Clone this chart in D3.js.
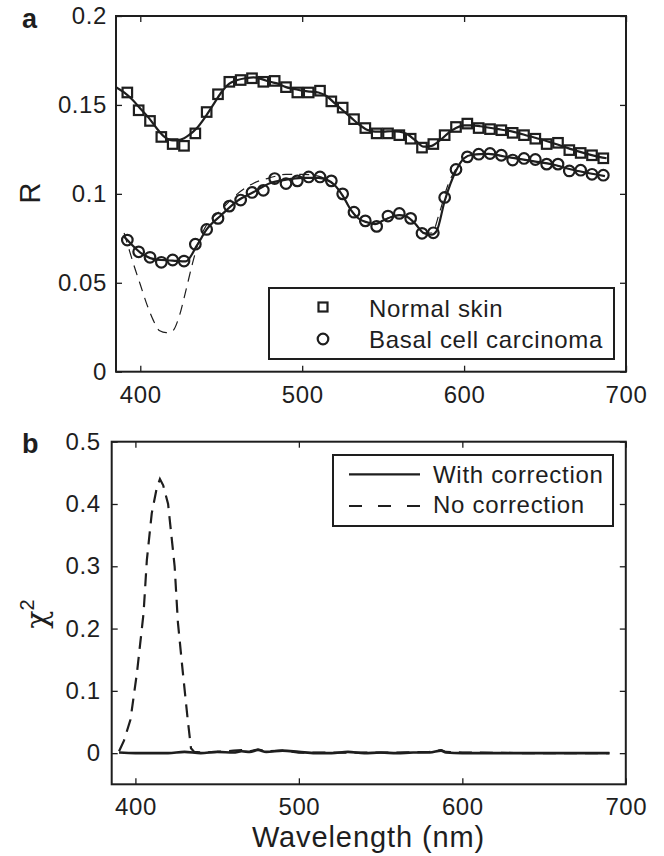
<!DOCTYPE html>
<html>
<head>
<meta charset="utf-8">
<script src="https://cdn.jsdelivr.net/npm/d3@7"></script>
<style>
  html, body { margin: 0; padding: 0; background: #fff; }
  svg { display: block; }
  text { font-family: "Liberation Sans", Arial, Helvetica, sans-serif; fill: #1e1e1e; }
</style>
</head>
<body>
<svg id="chart" width="664" height="856"></svg>
<script>
// ---------------- DATA ----------------
// Panel a: measured reflectance (markers)
const markerWavelengths = [392, 399, 406, 413, 420, 427, 434, 441, 448, 455, 462, 469, 476, 483, 490, 497, 504, 511, 518, 525, 532, 539, 546, 553, 560, 567, 574, 581, 588, 595, 602, 609, 616, 623, 630, 637, 644, 651, 658, 665, 672, 679, 686];
const normalSkin = [0.157, 0.147, 0.141, 0.132, 0.128, 0.127, 0.134, 0.146, 0.156, 0.163, 0.164, 0.165, 0.163, 0.1635, 0.160, 0.157, 0.157, 0.158, 0.152, 0.1485, 0.142, 0.137, 0.134, 0.134, 0.133, 0.131, 0.126, 0.128, 0.133, 0.1376, 0.1395, 0.137, 0.1364, 0.1358, 0.1343, 0.133, 0.131, 0.128, 0.1287, 0.1246, 0.123, 0.1217, 0.120];
const basalCell = [0.074, 0.0674, 0.0643, 0.0615, 0.0628, 0.0622, 0.0717, 0.080, 0.0862, 0.0931, 0.0965, 0.1008, 0.102, 0.1086, 0.1058, 0.1073, 0.1095, 0.1095, 0.1073, 0.100, 0.0897, 0.0848, 0.0817, 0.0875, 0.089, 0.0862, 0.0778, 0.0781, 0.098, 0.1137, 0.1208, 0.1223, 0.1227, 0.1217, 0.119, 0.1199, 0.1193, 0.1167, 0.1167, 0.1129, 0.1133, 0.111, 0.1105];

// Panel a: model fits
const normalFitX = [385, 390, 395, 400, 405, 410, 415, 420, 425, 430, 435, 440, 445, 450, 455, 460, 465, 470, 475, 480, 485, 490, 495, 500, 505, 510, 515, 520, 525, 530, 535, 540, 545, 550, 555, 560, 565, 570, 575, 580, 585, 590, 595, 600, 605, 610, 620, 630, 640, 650, 660, 670, 680, 688];
const normalFitY = [0.160, 0.157, 0.153, 0.148, 0.143, 0.137, 0.132, 0.130, 0.1305, 0.133, 0.137, 0.143, 0.150, 0.157, 0.162, 0.164, 0.165, 0.1655, 0.1645, 0.163, 0.162, 0.160, 0.159, 0.158, 0.1575, 0.157, 0.155, 0.151, 0.147, 0.143, 0.139, 0.136, 0.135, 0.135, 0.1352, 0.135, 0.1335, 0.130, 0.1265, 0.127, 0.130, 0.134, 0.137, 0.1385, 0.1385, 0.138, 0.1365, 0.135, 0.1325, 0.130, 0.127, 0.124, 0.1215, 0.120];
const bccFitX = [390, 392, 400, 410, 420, 428, 435, 441, 450, 460, 470, 480, 490, 500, 510, 515, 520, 525, 530, 535, 540, 545, 550, 555, 560, 565, 570, 575, 580, 583, 588, 595, 600, 605, 615, 625, 635, 645, 655, 665, 675, 687];
const bccFitY = [0.076, 0.074, 0.067, 0.063, 0.0625, 0.062, 0.071, 0.080, 0.088, 0.096, 0.101, 0.106, 0.108, 0.109, 0.109, 0.108, 0.105, 0.099, 0.091, 0.086, 0.084, 0.083, 0.085, 0.087, 0.088, 0.087, 0.083, 0.078, 0.077, 0.079, 0.096, 0.113, 0.120, 0.122, 0.1225, 0.121, 0.1195, 0.118, 0.1165, 0.114, 0.112, 0.110];
const bccNoCorrX = [390, 392, 396, 400, 404, 408, 412, 416, 420, 424, 428, 432, 436, 440, 450, 460, 470, 480, 490, 500, 510, 515, 520, 525, 530, 535, 540, 545, 550, 555, 560, 565, 570, 575, 580, 585, 590, 595, 600, 605, 615, 625, 635, 645, 655, 665, 675, 687];
const bccNoCorrY = [0.078, 0.072, 0.060, 0.049, 0.038, 0.029, 0.023, 0.022, 0.023, 0.031, 0.045, 0.060, 0.073, 0.081, 0.091, 0.100, 0.106, 0.109, 0.111, 0.111, 0.110, 0.108, 0.105, 0.099, 0.091, 0.086, 0.084, 0.083, 0.085, 0.087, 0.088, 0.087, 0.083, 0.078, 0.078, 0.090, 0.105, 0.114, 0.120, 0.122, 0.1225, 0.121, 0.1195, 0.118, 0.1165, 0.114, 0.112, 0.110];

// Panel b: chi-square
const chiWithX = [390, 400, 410, 420, 430, 440, 450, 460, 465, 470, 475, 480, 490, 500, 510, 520, 530, 540, 550, 560, 570, 580, 587, 590, 600, 620, 640, 660, 690];
const chiWith = [0.001, 0.0, 0.0, 0.0, 0.002, 0.0, 0.002, 0.001, 0.003, 0.002, 0.005, 0.002, 0.004, 0.002, 0.0, 0.0, 0.002, 0.0, 0.001, 0.0, 0.001, 0.001, 0.004, 0.001, 0.0, 0.0, 0.0, 0.0, 0.0];
const chiNoX = [390, 393, 397, 401, 405, 407, 410, 413, 415, 417, 420, 422, 424, 426, 429, 432, 434, 436, 440, 450, 460, 465, 470, 475, 480, 490, 500, 520, 540, 560, 580, 587, 590, 600, 640, 690];
const chiNo = [0.003, 0.02, 0.054, 0.13, 0.225, 0.31, 0.385, 0.425, 0.44, 0.43, 0.40, 0.35, 0.30, 0.21, 0.13, 0.054, 0.008, 0.002, 0.001, 0.002, 0.004, 0.005, 0.003, 0.006, 0.003, 0.004, 0.001, 0.001, 0.001, 0.001, 0.002, 0.005, 0.002, 0.001, 0.0, 0.0];

// Tick labels
const xTicks = [400, 500, 600, 700];
const yTicksA = [0, 0.05, 0.1, 0.15, 0.2];
const yTicksB = [0, 0.1, 0.2, 0.3, 0.4, 0.5];
const legendA = ["Normal skin", "Basal cell carcinoma"];
const legendB = ["With correction", "No correction"];

// ---------------- DRAWING ----------------
const svg = d3.select("#chart");
const INK = "#1e1e1e";

function panel(xs, ys, xTickVals, yTickVals, yLabelShift) {
  const [x0, x1] = xs.range();
  const [y0, y1] = ys.range(); // y0 bottom, y1 top
  const g = svg.append("g");
  const bottom = g.append("g").attr("transform", `translate(0,${y0})`)
    .call(d3.axisBottom(xs).tickValues(xTickVals).tickSizeInner(-6).tickSizeOuter(0).tickPadding(14).tickFormat(d => String(d)));
  const top = g.append("g").attr("transform", `translate(0,${y1})`)
    .call(d3.axisTop(xs).tickValues(xTickVals).tickSizeInner(-6).tickSizeOuter(0).tickFormat(""));
  const left = g.append("g").attr("transform", `translate(${x0},0)`)
    .call(d3.axisLeft(ys).tickValues(yTickVals).tickSizeInner(-6).tickSizeOuter(0).tickPadding(yLabelShift).tickFormat(d => String(d)));
  const right = g.append("g").attr("transform", `translate(${x1},0)`)
    .call(d3.axisRight(ys).tickValues(yTickVals).tickSizeInner(-6).tickSizeOuter(0).tickFormat(""));
  [bottom, top, left, right].forEach(a => {
    a.select(".domain").remove();
    a.selectAll(".tick line").attr("stroke", INK).attr("stroke-width", 1.3);
    a.selectAll(".tick text").attr("font-size", 24).attr("letter-spacing", "0.6px")
      .attr("fill", INK).style("font-family", '"Liberation Sans", Arial, sans-serif');
  });
  g.append("rect").attr("x", x0).attr("y", y1).attr("width", x1 - x0).attr("height", y0 - y1)
    .attr("fill", "none").attr("stroke", INK).attr("stroke-width", 2);
  return g;
}

// ---- Panel a ----
const xA = d3.scaleLinear().domain([385, 700]).range([116, 626]);
const yA = d3.scaleLinear().domain([0, 0.2]).range([371.7, 16]);
const clipA = svg.append("clipPath").attr("id", "clipA").append("rect")
  .attr("x", 116).attr("y", 16).attr("width", 510).attr("height", 355.7);
panel(xA, yA, xTicks, yTicksA, 9);

const gA = svg.append("g").attr("clip-path", "url(#clipA)");
const lineA = d3.line().curve(d3.curveMonotoneX);

gA.append("path").attr("d", lineA(bccNoCorrX.map((v, i) => [xA(v), yA(bccNoCorrY[i])])))
  .attr("fill", "none").attr("stroke", INK).attr("stroke-width", 1.2).attr("stroke-dasharray", "10,7");
gA.append("path").attr("d", lineA(normalFitX.map((v, i) => [xA(v), yA(normalFitY[i])])))
  .attr("fill", "none").attr("stroke", INK).attr("stroke-width", 2.2);
gA.append("path").attr("d", lineA(bccFitX.map((v, i) => [xA(v), yA(bccFitY[i])])))
  .attr("fill", "none").attr("stroke", INK).attr("stroke-width", 2.2);

const sq = 9.5;
gA.selectAll("rect.sq").data(markerWavelengths).enter().append("rect").attr("class", "sq")
  .attr("x", (d) => xA(d) - sq / 2).attr("y", (d, i) => yA(normalSkin[i]) - sq / 2)
  .attr("width", sq).attr("height", sq)
  .attr("fill", "none").attr("stroke", INK).attr("stroke-width", 2.2);
gA.selectAll("circle.ci").data(markerWavelengths).enter().append("circle").attr("class", "ci")
  .attr("cx", d => xA(d)).attr("cy", (d, i) => yA(basalCell[i])).attr("r", 5.3)
  .attr("fill", "none").attr("stroke", INK).attr("stroke-width", 2.2);

// legend a
svg.append("rect").attr("x", 269).attr("y", 288).attr("width", 345).attr("height", 71)
  .attr("fill", "#fff").attr("stroke", INK).attr("stroke-width", 2);
svg.append("rect").attr("x", 323 - 4.5).attr("y", 307 - 4.5).attr("width", 9).attr("height", 9)
  .attr("fill", "none").attr("stroke", INK).attr("stroke-width", 2.2);
svg.append("circle").attr("cx", 323).attr("cy", 339).attr("r", 5.3)
  .attr("fill", "none").attr("stroke", INK).attr("stroke-width", 2.2);
svg.append("text").attr("x", 369).attr("y", 316.5).attr("font-size", 24).attr("letter-spacing", "0.7px").text(legendA[0]);
svg.append("text").attr("x", 369).attr("y", 348.3).attr("font-size", 24).attr("letter-spacing", "0.7px").text(legendA[1]);

// labels a
svg.append("text").attr("transform", "translate(40,193) rotate(-90)").attr("text-anchor", "middle")
  .attr("font-size", 29).text("R");
svg.append("text").attr("x", 22).attr("y", 28).attr("font-size", 27).attr("font-weight", "bold").text("a");

// ---- Panel b ----
const xB = d3.scaleLinear().domain([385.5, 700]).range([111.7, 625.8]);
const yB = d3.scaleLinear().domain([-0.05, 0.5]).range([784.3, 441.7]);
svg.append("clipPath").attr("id", "clipB").append("rect")
  .attr("x", 111.7).attr("y", 441.7).attr("width", 514.1).attr("height", 342.6);
panel(xB, yB, xTicks, yTicksB, 11);

const gB = svg.append("g").attr("clip-path", "url(#clipB)");
const lineB = d3.line();
gB.append("path").attr("d", lineB(chiNoX.map((v, i) => [xB(v), yB(chiNo[i])])))
  .attr("fill", "none").attr("stroke", INK).attr("stroke-width", 2.2).attr("stroke-dasharray", "13,8");
gB.append("path").attr("d", d3.line().curve(d3.curveMonotoneX)(chiWithX.map((v, i) => [xB(v), yB(chiWith[i])])))
  .attr("fill", "none").attr("stroke", INK).attr("stroke-width", 2.6);

// legend b
svg.append("rect").attr("x", 333).attr("y", 455).attr("width", 280).attr("height", 71)
  .attr("fill", "#fff").attr("stroke", INK).attr("stroke-width", 2);
svg.append("line").attr("x1", 349).attr("x2", 420).attr("y1", 474.3).attr("y2", 474.3)
  .attr("stroke", INK).attr("stroke-width", 2.2);
svg.append("line").attr("x1", 349).attr("x2", 420).attr("y1", 506).attr("y2", 506)
  .attr("stroke", INK).attr("stroke-width", 2.2).attr("stroke-dasharray", "13,16");
svg.append("text").attr("x", 433).attr("y", 482.7).attr("font-size", 24).attr("letter-spacing", "0.7px").text(legendB[0]);
svg.append("text").attr("x", 433).attr("y", 512.7).attr("font-size", 24).attr("letter-spacing", "0.7px").text(legendB[1]);

// labels b
const chiLabel = svg.append("text").attr("transform", "translate(47,614) rotate(-90)").attr("text-anchor", "middle");
chiLabel.append("tspan").attr("font-size", 30).style("font-family", '"DejaVu Serif", "Liberation Serif", serif').text("χ");
chiLabel.append("tspan").attr("font-size", 20).attr("dy", -13).text("2");
svg.append("text").attr("x", 22).attr("y", 453).attr("font-size", 27).attr("font-weight", "bold").text("b");
svg.append("text").attr("x", 368.5).attr("y", 846.5).attr("text-anchor", "middle")
  .attr("font-size", 29).attr("letter-spacing", "0.9px").text("Wavelength (nm)");
</script>
</body>
</html>
